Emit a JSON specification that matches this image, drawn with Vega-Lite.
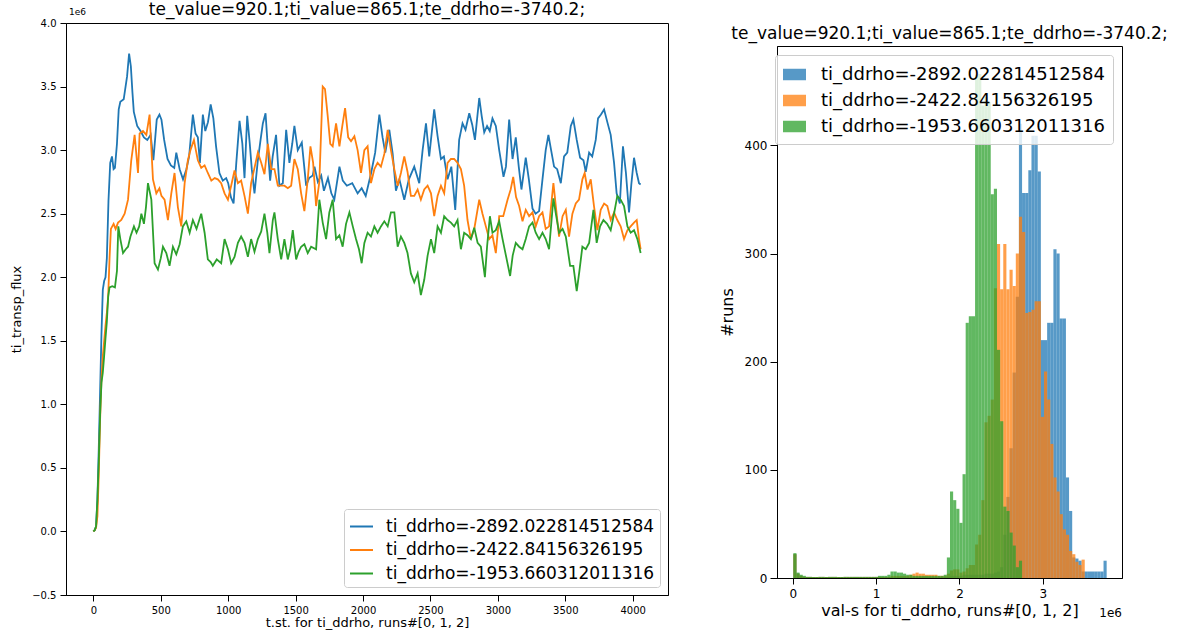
{
"$schema": "https://vega.github.io/schema/vega-lite/v6.json",
"padding": {"left": 10, "top": 0, "right": 0, "bottom": 0},
"background": "white",
"config": {
  "font": "DejaVu Sans",
  "view": {"stroke": "#000", "strokeWidth": 1},
  "axis": {"grid": false, "domainColor": "#000", "tickColor": "#000", "labelColor": "#000", "titleColor": "#000", "labelFont": "DejaVu Sans", "titleFont": "DejaVu Sans", "titleFontWeight": "normal", "labelFlush": false, "labelOverlap": false},
  "title": {"font": "DejaVu Sans", "fontWeight": "normal", "color": "#000", "anchor": "middle", "frame": "group"},
  "legend": {"labelFont": "DejaVu Sans", "labelColor": "#000", "labelLimit": 0, "fillColor": "rgba(255,255,255,0.8)", "strokeColor": "#cccccc", "cornerRadius": 3}
},
"spacing": 49,
"resolve": {"scale": {"color": "independent"}, "legend": {"color": "independent"}},
"datasets": {
"lines": [
{"s":0,"t":0,"v":0},{"s":0,"t":10,"v":0.01},{"s":0,"t":20,"v":0.04},{"s":0,"t":30,"v":0.25},{"s":0,"t":40,"v":0.65},{"s":0,"t":50,"v":1.10},{"s":0,"t":60,"v":1.55},{"s":0,"t":70,"v":1.90},{"s":0,"t":80,"v":1.97},{"s":0,"t":90,"v":2.00},{"s":0,"t":100,"v":2.15},{"s":0,"t":112,"v":2.60},{"s":0,"t":125,"v":2.90},{"s":0,"t":138,"v":2.95},{"s":0,"t":150,"v":2.85},{"s":0,"t":160,"v":2.86},{"s":0,"t":175,"v":3.05},{"s":0,"t":188,"v":3.32},{"s":0,"t":200,"v":3.38},{"s":0,"t":225,"v":3.40},{"s":0,"t":250,"v":3.58},{"s":0,"t":265,"v":3.76},{"s":0,"t":278,"v":3.66},{"s":0,"t":290,"v":3.45},{"s":0,"t":300,"v":3.30},{"s":0,"t":325,"v":3.19},{"s":0,"t":350,"v":3.15},{"s":0,"t":375,"v":3.10},{"s":0,"t":400,"v":3.08},{"s":0,"t":425,"v":3.12},{"s":0,"t":445,"v":2.92},{"s":0,"t":470,"v":3.24},{"s":0,"t":490,"v":3.28},{"s":0,"t":505,"v":3.24},{"s":0,"t":525,"v":3.08},{"s":0,"t":550,"v":2.93},{"s":0,"t":575,"v":2.88},{"s":0,"t":600,"v":2.86},{"s":0,"t":615,"v":2.98},{"s":0,"t":640,"v":2.85},{"s":0,"t":665,"v":2.77},{"s":0,"t":690,"v":2.85},{"s":0,"t":710,"v":2.95},{"s":0,"t":738,"v":3.28},{"s":0,"t":758,"v":3.13},{"s":0,"t":775,"v":3.10},{"s":0,"t":790,"v":2.90},{"s":0,"t":812,"v":3.28},{"s":0,"t":830,"v":3.15},{"s":0,"t":850,"v":3.22},{"s":0,"t":870,"v":3.36},{"s":0,"t":890,"v":3.25},{"s":0,"t":910,"v":3.03},{"s":0,"t":935,"v":2.82},{"s":0,"t":960,"v":2.76},{"s":0,"t":985,"v":2.78},{"s":0,"t":1000,"v":2.74},{"s":0,"t":1020,"v":2.63},{"s":0,"t":1040,"v":2.58},{"s":0,"t":1060,"v":2.90},{"s":0,"t":1084,"v":3.23},{"s":0,"t":1105,"v":3.05},{"s":0,"t":1121,"v":2.78},{"s":0,"t":1141,"v":3.27},{"s":0,"t":1160,"v":3.05},{"s":0,"t":1175,"v":2.85},{"s":0,"t":1195,"v":2.66},{"s":0,"t":1220,"v":2.92},{"s":0,"t":1240,"v":3.08},{"s":0,"t":1257,"v":3.21},{"s":0,"t":1277,"v":3.29},{"s":0,"t":1295,"v":3.00},{"s":0,"t":1311,"v":2.76},{"s":0,"t":1330,"v":2.95},{"s":0,"t":1355,"v":3.12},{"s":0,"t":1380,"v":2.72},{"s":0,"t":1405,"v":2.74},{"s":0,"t":1430,"v":3.16},{"s":0,"t":1454,"v":2.90},{"s":0,"t":1475,"v":3.05},{"s":0,"t":1491,"v":3.19},{"s":0,"t":1516,"v":3.00},{"s":0,"t":1546,"v":3.06},{"s":0,"t":1578,"v":2.72},{"s":0,"t":1600,"v":2.78},{"s":0,"t":1627,"v":2.80},{"s":0,"t":1640,"v":2.87},{"s":0,"t":1665,"v":2.75},{"s":0,"t":1690,"v":2.80},{"s":0,"t":1710,"v":2.68},{"s":0,"t":1740,"v":2.78},{"s":0,"t":1765,"v":2.66},{"s":0,"t":1787,"v":2.61},{"s":0,"t":1825,"v":2.87},{"s":0,"t":1850,"v":2.76},{"s":0,"t":1880,"v":2.72},{"s":0,"t":1920,"v":2.74},{"s":0,"t":1960,"v":2.66},{"s":0,"t":1990,"v":2.70},{"s":0,"t":2020,"v":2.64},{"s":0,"t":2060,"v":2.82},{"s":0,"t":2090,"v":2.98},{"s":0,"t":2121,"v":3.28},{"s":0,"t":2145,"v":3.10},{"s":0,"t":2165,"v":2.98},{"s":0,"t":2195,"v":3.16},{"s":0,"t":2220,"v":2.97},{"s":0,"t":2244,"v":2.68},{"s":0,"t":2270,"v":2.77},{"s":0,"t":2306,"v":2.61},{"s":0,"t":2340,"v":2.77},{"s":0,"t":2380,"v":2.87},{"s":0,"t":2417,"v":2.74},{"s":0,"t":2442,"v":3.00},{"s":0,"t":2467,"v":3.21},{"s":0,"t":2491,"v":2.95},{"s":0,"t":2528,"v":3.32},{"s":0,"t":2553,"v":3.11},{"s":0,"t":2578,"v":2.93},{"s":0,"t":2600,"v":2.95},{"s":0,"t":2627,"v":2.77},{"s":0,"t":2655,"v":2.87},{"s":0,"t":2684,"v":2.53},{"s":0,"t":2713,"v":3.08},{"s":0,"t":2738,"v":3.21},{"s":0,"t":2760,"v":3.16},{"s":0,"t":2788,"v":3.29},{"s":0,"t":2810,"v":3.20},{"s":0,"t":2830,"v":3.08},{"s":0,"t":2862,"v":3.41},{"s":0,"t":2880,"v":3.27},{"s":0,"t":2899,"v":3.14},{"s":0,"t":2920,"v":3.19},{"s":0,"t":2940,"v":3.15},{"s":0,"t":2960,"v":3.25},{"s":0,"t":2985,"v":3.19},{"s":0,"t":3010,"v":3.00},{"s":0,"t":3042,"v":2.79},{"s":0,"t":3060,"v":2.87},{"s":0,"t":3084,"v":3.24},{"s":0,"t":3109,"v":2.93},{"s":0,"t":3133,"v":3.10},{"s":0,"t":3155,"v":2.87},{"s":0,"t":3175,"v":2.69},{"s":0,"t":3207,"v":2.94},{"s":0,"t":3230,"v":2.77},{"s":0,"t":3257,"v":2.54},{"s":0,"t":3280,"v":2.50},{"s":0,"t":3306,"v":2.52},{"s":0,"t":3331,"v":2.77},{"s":0,"t":3355,"v":3.00},{"s":0,"t":3375,"v":3.12},{"s":0,"t":3395,"v":3.00},{"s":0,"t":3417,"v":2.87},{"s":0,"t":3440,"v":2.85},{"s":0,"t":3467,"v":2.74},{"s":0,"t":3491,"v":2.95},{"s":0,"t":3515,"v":2.98},{"s":0,"t":3541,"v":3.19},{"s":0,"t":3560,"v":3.24},{"s":0,"t":3585,"v":3.08},{"s":0,"t":3610,"v":2.94},{"s":0,"t":3635,"v":2.92},{"s":0,"t":3652,"v":2.83},{"s":0,"t":3677,"v":2.98},{"s":0,"t":3700,"v":2.95},{"s":0,"t":3726,"v":3.08},{"s":0,"t":3743,"v":3.25},{"s":0,"t":3765,"v":3.28},{"s":0,"t":3788,"v":3.32},{"s":0,"t":3812,"v":3.22},{"s":0,"t":3837,"v":3.12},{"s":0,"t":3862,"v":2.90},{"s":0,"t":3881,"v":2.66},{"s":0,"t":3905,"v":2.58},{"s":0,"t":3928,"v":3.03},{"s":0,"t":3950,"v":2.82},{"s":0,"t":3973,"v":2.51},{"s":0,"t":3990,"v":2.73},{"s":0,"t":4010,"v":2.94},{"s":0,"t":4030,"v":2.82},{"s":0,"t":4047,"v":2.74},{"s":0,"t":4059,"v":2.73},
{"s":1,"t":0,"v":0},{"s":1,"t":10,"v":0.01},{"s":1,"t":20,"v":0.03},{"s":1,"t":30,"v":0.12},{"s":1,"t":40,"v":0.45},{"s":1,"t":50,"v":0.88},{"s":1,"t":60,"v":1.20},{"s":1,"t":70,"v":1.38},{"s":1,"t":80,"v":1.50},{"s":1,"t":90,"v":1.62},{"s":1,"t":100,"v":1.72},{"s":1,"t":110,"v":1.85},{"s":1,"t":120,"v":2.15},{"s":1,"t":130,"v":2.38},{"s":1,"t":150,"v":2.42},{"s":1,"t":165,"v":2.38},{"s":1,"t":183,"v":2.43},{"s":1,"t":207,"v":2.45},{"s":1,"t":232,"v":2.50},{"s":1,"t":257,"v":2.61},{"s":1,"t":281,"v":2.92},{"s":1,"t":306,"v":3.12},{"s":1,"t":331,"v":2.82},{"s":1,"t":343,"v":3.13},{"s":1,"t":368,"v":3.15},{"s":1,"t":393,"v":3.12},{"s":1,"t":417,"v":3.28},{"s":1,"t":442,"v":2.77},{"s":1,"t":467,"v":2.66},{"s":1,"t":490,"v":2.70},{"s":1,"t":505,"v":2.64},{"s":1,"t":528,"v":2.61},{"s":1,"t":553,"v":2.45},{"s":1,"t":578,"v":2.66},{"s":1,"t":602,"v":2.82},{"s":1,"t":627,"v":2.55},{"s":1,"t":652,"v":2.40},{"s":1,"t":677,"v":2.74},{"s":1,"t":701,"v":2.92},{"s":1,"t":720,"v":3.00},{"s":1,"t":746,"v":3.08},{"s":1,"t":760,"v":3.00},{"s":1,"t":775,"v":2.92},{"s":1,"t":800,"v":2.86},{"s":1,"t":825,"v":2.88},{"s":1,"t":849,"v":2.82},{"s":1,"t":875,"v":2.76},{"s":1,"t":900,"v":2.78},{"s":1,"t":923,"v":2.77},{"s":1,"t":948,"v":2.74},{"s":1,"t":973,"v":2.66},{"s":1,"t":998,"v":2.61},{"s":1,"t":1022,"v":2.72},{"s":1,"t":1047,"v":2.84},{"s":1,"t":1072,"v":2.74},{"s":1,"t":1096,"v":2.76},{"s":1,"t":1121,"v":2.64},{"s":1,"t":1146,"v":2.50},{"s":1,"t":1170,"v":2.74},{"s":1,"t":1195,"v":2.86},{"s":1,"t":1220,"v":2.98},{"s":1,"t":1245,"v":2.90},{"s":1,"t":1269,"v":2.81},{"s":1,"t":1294,"v":3.05},{"s":1,"t":1319,"v":2.85},{"s":1,"t":1343,"v":2.85},{"s":1,"t":1368,"v":2.72},{"s":1,"t":1393,"v":2.72},{"s":1,"t":1417,"v":2.72},{"s":1,"t":1442,"v":2.70},{"s":1,"t":1467,"v":2.72},{"s":1,"t":1491,"v":2.93},{"s":1,"t":1516,"v":2.85},{"s":1,"t":1541,"v":2.66},{"s":1,"t":1565,"v":2.52},{"s":1,"t":1590,"v":2.77},{"s":1,"t":1610,"v":3.03},{"s":1,"t":1630,"v":2.90},{"s":1,"t":1652,"v":2.56},{"s":1,"t":1676,"v":2.75},{"s":1,"t":1701,"v":3.50},{"s":1,"t":1718,"v":3.48},{"s":1,"t":1738,"v":3.27},{"s":1,"t":1757,"v":3.05},{"s":1,"t":1775,"v":3.03},{"s":1,"t":1800,"v":3.21},{"s":1,"t":1825,"v":3.03},{"s":1,"t":1845,"v":3.18},{"s":1,"t":1867,"v":3.33},{"s":1,"t":1890,"v":3.10},{"s":1,"t":1911,"v":3.07},{"s":1,"t":1936,"v":3.11},{"s":1,"t":1960,"v":3.00},{"s":1,"t":1985,"v":2.82},{"s":1,"t":2010,"v":3.00},{"s":1,"t":2034,"v":3.03},{"s":1,"t":2059,"v":2.74},{"s":1,"t":2084,"v":2.85},{"s":1,"t":2108,"v":2.90},{"s":1,"t":2133,"v":2.87},{"s":1,"t":2158,"v":2.97},{"s":1,"t":2183,"v":3.16},{"s":1,"t":2207,"v":3.00},{"s":1,"t":2232,"v":2.85},{"s":1,"t":2257,"v":2.72},{"s":1,"t":2281,"v":2.82},{"s":1,"t":2306,"v":2.95},{"s":1,"t":2330,"v":2.83},{"s":1,"t":2355,"v":2.64},{"s":1,"t":2380,"v":2.64},{"s":1,"t":2405,"v":2.69},{"s":1,"t":2429,"v":2.61},{"s":1,"t":2454,"v":2.69},{"s":1,"t":2479,"v":2.72},{"s":1,"t":2504,"v":2.66},{"s":1,"t":2528,"v":2.48},{"s":1,"t":2553,"v":2.64},{"s":1,"t":2578,"v":2.72},{"s":1,"t":2602,"v":2.66},{"s":1,"t":2627,"v":2.90},{"s":1,"t":2652,"v":2.93},{"s":1,"t":2676,"v":2.93},{"s":1,"t":2701,"v":2.90},{"s":1,"t":2726,"v":2.85},{"s":1,"t":2750,"v":2.72},{"s":1,"t":2775,"v":2.45},{"s":1,"t":2800,"v":2.30},{"s":1,"t":2825,"v":2.38},{"s":1,"t":2862,"v":2.61},{"s":1,"t":2886,"v":2.50},{"s":1,"t":2911,"v":2.40},{"s":1,"t":2936,"v":2.30},{"s":1,"t":2960,"v":2.33},{"s":1,"t":2985,"v":2.19},{"s":1,"t":3010,"v":2.48},{"s":1,"t":3040,"v":2.48},{"s":1,"t":3072,"v":2.61},{"s":1,"t":3095,"v":2.69},{"s":1,"t":3114,"v":2.79},{"s":1,"t":3135,"v":2.63},{"s":1,"t":3158,"v":2.56},{"s":1,"t":3183,"v":2.44},{"s":1,"t":3207,"v":2.53},{"s":1,"t":3232,"v":2.48},{"s":1,"t":3257,"v":2.51},{"s":1,"t":3281,"v":2.40},{"s":1,"t":3306,"v":2.48},{"s":1,"t":3331,"v":2.51},{"s":1,"t":3355,"v":2.38},{"s":1,"t":3380,"v":2.40},{"s":1,"t":3412,"v":2.74},{"s":1,"t":3430,"v":2.56},{"s":1,"t":3454,"v":2.32},{"s":1,"t":3480,"v":2.48},{"s":1,"t":3504,"v":2.53},{"s":1,"t":3528,"v":2.32},{"s":1,"t":3553,"v":2.50},{"s":1,"t":3578,"v":2.58},{"s":1,"t":3602,"v":2.61},{"s":1,"t":3627,"v":2.77},{"s":1,"t":3644,"v":2.82},{"s":1,"t":3665,"v":2.69},{"s":1,"t":3689,"v":2.77},{"s":1,"t":3713,"v":2.56},{"s":1,"t":3738,"v":2.37},{"s":1,"t":3763,"v":2.53},{"s":1,"t":3788,"v":2.58},{"s":1,"t":3812,"v":2.56},{"s":1,"t":3837,"v":2.45},{"s":1,"t":3862,"v":2.51},{"s":1,"t":3886,"v":2.45},{"s":1,"t":3911,"v":2.40},{"s":1,"t":3936,"v":2.30},{"s":1,"t":3961,"v":2.37},{"s":1,"t":3985,"v":2.40},{"s":1,"t":4010,"v":2.43},{"s":1,"t":4030,"v":2.45},{"s":1,"t":4047,"v":2.30},{"s":1,"t":4059,"v":2.22},
{"s":2,"t":0,"v":0},{"s":2,"t":10,"v":0.01},{"s":2,"t":20,"v":0.04},{"s":2,"t":30,"v":0.25},{"s":2,"t":40,"v":0.55},{"s":2,"t":50,"v":0.92},{"s":2,"t":60,"v":1.17},{"s":2,"t":70,"v":1.25},{"s":2,"t":80,"v":1.38},{"s":2,"t":90,"v":1.52},{"s":2,"t":100,"v":1.65},{"s":2,"t":110,"v":1.85},{"s":2,"t":120,"v":1.92},{"s":2,"t":140,"v":1.93},{"s":2,"t":160,"v":1.92},{"s":2,"t":175,"v":2.05},{"s":2,"t":185,"v":2.40},{"s":2,"t":200,"v":2.30},{"s":2,"t":220,"v":2.19},{"s":2,"t":240,"v":2.22},{"s":2,"t":257,"v":2.24},{"s":2,"t":275,"v":2.32},{"s":2,"t":301,"v":2.40},{"s":2,"t":320,"v":2.35},{"s":2,"t":340,"v":2.40},{"s":2,"t":356,"v":2.50},{"s":2,"t":375,"v":2.42},{"s":2,"t":390,"v":2.55},{"s":2,"t":405,"v":2.74},{"s":2,"t":430,"v":2.61},{"s":2,"t":454,"v":2.11},{"s":2,"t":479,"v":2.06},{"s":2,"t":500,"v":2.15},{"s":2,"t":516,"v":2.24},{"s":2,"t":541,"v":2.19},{"s":2,"t":565,"v":2.09},{"s":2,"t":590,"v":2.24},{"s":2,"t":615,"v":2.18},{"s":2,"t":640,"v":2.26},{"s":2,"t":664,"v":2.40},{"s":2,"t":689,"v":2.44},{"s":2,"t":714,"v":2.35},{"s":2,"t":738,"v":2.45},{"s":2,"t":765,"v":2.38},{"s":2,"t":800,"v":2.50},{"s":2,"t":825,"v":2.35},{"s":2,"t":849,"v":2.14},{"s":2,"t":870,"v":2.12},{"s":2,"t":886,"v":2.09},{"s":2,"t":915,"v":2.14},{"s":2,"t":948,"v":2.11},{"s":2,"t":973,"v":2.30},{"s":2,"t":998,"v":2.22},{"s":2,"t":1022,"v":2.11},{"s":2,"t":1047,"v":2.16},{"s":2,"t":1072,"v":2.27},{"s":2,"t":1096,"v":2.32},{"s":2,"t":1121,"v":2.27},{"s":2,"t":1146,"v":2.16},{"s":2,"t":1170,"v":2.30},{"s":2,"t":1195,"v":2.20},{"s":2,"t":1220,"v":2.30},{"s":2,"t":1245,"v":2.36},{"s":2,"t":1269,"v":2.50},{"s":2,"t":1290,"v":2.35},{"s":2,"t":1306,"v":2.19},{"s":2,"t":1331,"v":2.45},{"s":2,"t":1343,"v":2.51},{"s":2,"t":1368,"v":2.30},{"s":2,"t":1393,"v":2.14},{"s":2,"t":1417,"v":2.30},{"s":2,"t":1442,"v":2.14},{"s":2,"t":1460,"v":2.22},{"s":2,"t":1479,"v":2.37},{"s":2,"t":1504,"v":2.14},{"s":2,"t":1522,"v":2.20},{"s":2,"t":1541,"v":2.24},{"s":2,"t":1565,"v":2.26},{"s":2,"t":1590,"v":2.19},{"s":2,"t":1615,"v":2.24},{"s":2,"t":1652,"v":2.22},{"s":2,"t":1676,"v":2.61},{"s":2,"t":1701,"v":2.43},{"s":2,"t":1726,"v":2.30},{"s":2,"t":1750,"v":2.51},{"s":2,"t":1775,"v":2.61},{"s":2,"t":1800,"v":2.30},{"s":2,"t":1825,"v":2.33},{"s":2,"t":1849,"v":2.24},{"s":2,"t":1874,"v":2.42},{"s":2,"t":1899,"v":2.51},{"s":2,"t":1924,"v":2.40},{"s":2,"t":1948,"v":2.30},{"s":2,"t":1970,"v":2.22},{"s":2,"t":1990,"v":2.11},{"s":2,"t":2010,"v":2.27},{"s":2,"t":2034,"v":2.35},{"s":2,"t":2059,"v":2.32},{"s":2,"t":2084,"v":2.40},{"s":2,"t":2108,"v":2.35},{"s":2,"t":2133,"v":2.40},{"s":2,"t":2158,"v":2.44},{"s":2,"t":2183,"v":2.40},{"s":2,"t":2207,"v":2.51},{"s":2,"t":2232,"v":2.51},{"s":2,"t":2257,"v":2.24},{"s":2,"t":2281,"v":2.32},{"s":2,"t":2306,"v":2.27},{"s":2,"t":2330,"v":2.19},{"s":2,"t":2355,"v":2.03},{"s":2,"t":2380,"v":1.96},{"s":2,"t":2405,"v":2.03},{"s":2,"t":2429,"v":1.86},{"s":2,"t":2454,"v":1.98},{"s":2,"t":2479,"v":2.17},{"s":2,"t":2504,"v":2.30},{"s":2,"t":2528,"v":2.19},{"s":2,"t":2553,"v":2.40},{"s":2,"t":2578,"v":2.35},{"s":2,"t":2602,"v":2.48},{"s":2,"t":2627,"v":2.45},{"s":2,"t":2652,"v":2.43},{"s":2,"t":2676,"v":2.40},{"s":2,"t":2701,"v":2.45},{"s":2,"t":2726,"v":2.22},{"s":2,"t":2750,"v":2.35},{"s":2,"t":2775,"v":2.33},{"s":2,"t":2800,"v":2.30},{"s":2,"t":2825,"v":2.39},{"s":2,"t":2850,"v":2.27},{"s":2,"t":2874,"v":2.24},{"s":2,"t":2904,"v":2.00},{"s":2,"t":2920,"v":2.24},{"s":2,"t":2941,"v":2.48},{"s":2,"t":2960,"v":2.35},{"s":2,"t":2985,"v":2.37},{"s":2,"t":3010,"v":2.44},{"s":2,"t":3035,"v":2.30},{"s":2,"t":3060,"v":2.17},{"s":2,"t":3091,"v":2.01},{"s":2,"t":3110,"v":2.17},{"s":2,"t":3133,"v":2.27},{"s":2,"t":3158,"v":2.24},{"s":2,"t":3183,"v":2.22},{"s":2,"t":3207,"v":2.30},{"s":2,"t":3232,"v":2.40},{"s":2,"t":3257,"v":2.43},{"s":2,"t":3281,"v":2.35},{"s":2,"t":3306,"v":2.30},{"s":2,"t":3331,"v":2.35},{"s":2,"t":3355,"v":2.30},{"s":2,"t":3380,"v":2.22},{"s":2,"t":3412,"v":2.62},{"s":2,"t":3430,"v":2.50},{"s":2,"t":3454,"v":2.35},{"s":2,"t":3480,"v":2.38},{"s":2,"t":3504,"v":2.32},{"s":2,"t":3536,"v":2.09},{"s":2,"t":3560,"v":2.09},{"s":2,"t":3585,"v":1.89},{"s":2,"t":3605,"v":2.05},{"s":2,"t":3627,"v":2.24},{"s":2,"t":3652,"v":2.22},{"s":2,"t":3677,"v":2.27},{"s":2,"t":3709,"v":2.53},{"s":2,"t":3733,"v":2.27},{"s":2,"t":3758,"v":2.40},{"s":2,"t":3783,"v":2.45},{"s":2,"t":3810,"v":2.42},{"s":2,"t":3837,"v":2.37},{"s":2,"t":3862,"v":2.50},{"s":2,"t":3886,"v":2.64},{"s":2,"t":3911,"v":2.61},{"s":2,"t":3936,"v":2.56},{"s":2,"t":3961,"v":2.40},{"s":2,"t":3985,"v":2.35},{"s":2,"t":4010,"v":2.37},{"s":2,"t":4035,"v":2.30},{"s":2,"t":4059,"v":2.19}
],
"hist": [
{"s":0,"x0":0,"x1":0.0376,"c":22},{"s":0,"x0":0.0376,"x1":0.0752,"c":4},{"s":0,"x0":0.0752,"x1":0.1128,"c":2},{"s":0,"x0":0.1128,"x1":0.1504,"c":1},{"s":0,"x0":0.1504,"x1":0.188,"c":1},{"s":0,"x0":0.188,"x1":0.2256,"c":1},{"s":0,"x0":0.2256,"x1":0.2632,"c":1},{"s":0,"x0":0.2632,"x1":0.3008,"c":1},{"s":0,"x0":0.3008,"x1":0.3384,"c":1},{"s":0,"x0":0.3384,"x1":0.376,"c":1},{"s":0,"x0":0.376,"x1":0.4136,"c":1},{"s":0,"x0":0.4136,"x1":0.4512,"c":1},{"s":0,"x0":0.4512,"x1":0.4888,"c":1},{"s":0,"x0":0.4888,"x1":0.5264,"c":1},{"s":0,"x0":0.5264,"x1":0.564,"c":1},{"s":0,"x0":0.564,"x1":0.6016,"c":1},{"s":0,"x0":0.6016,"x1":0.6392,"c":1},{"s":0,"x0":0.6392,"x1":0.6768,"c":1},{"s":0,"x0":0.6768,"x1":0.7144,"c":1},{"s":0,"x0":0.7144,"x1":0.752,"c":1},{"s":0,"x0":0.752,"x1":0.7896,"c":1},{"s":0,"x0":0.7896,"x1":0.8272,"c":1},{"s":0,"x0":0.8272,"x1":0.8648,"c":1},{"s":0,"x0":0.8648,"x1":0.9024,"c":1},{"s":0,"x0":0.9024,"x1":0.94,"c":1},{"s":0,"x0":0.94,"x1":0.9776,"c":1},{"s":0,"x0":0.9776,"x1":1.0152,"c":1},{"s":0,"x0":1.0152,"x1":1.0528,"c":1},{"s":0,"x0":1.0528,"x1":1.0904,"c":1},{"s":0,"x0":1.0904,"x1":1.128,"c":1},{"s":0,"x0":1.128,"x1":1.1656,"c":1},{"s":0,"x0":1.1656,"x1":1.2032,"c":1},{"s":0,"x0":1.2032,"x1":1.2408,"c":1},{"s":0,"x0":1.2408,"x1":1.2784,"c":1},{"s":0,"x0":1.2784,"x1":1.316,"c":1},{"s":0,"x0":1.316,"x1":1.3536,"c":1},{"s":0,"x0":1.3536,"x1":1.3912,"c":1},{"s":0,"x0":1.3912,"x1":1.4288,"c":1},{"s":0,"x0":1.4288,"x1":1.4664,"c":1},{"s":0,"x0":1.4664,"x1":1.504,"c":1},{"s":0,"x0":1.504,"x1":1.5416,"c":1},{"s":0,"x0":1.5416,"x1":1.5792,"c":1},{"s":0,"x0":1.5792,"x1":1.6168,"c":1},{"s":0,"x0":1.6168,"x1":1.6544,"c":1},{"s":0,"x0":1.6544,"x1":1.692,"c":1},{"s":0,"x0":1.692,"x1":1.7296,"c":1},{"s":0,"x0":1.7296,"x1":1.7672,"c":1},{"s":0,"x0":1.7672,"x1":1.8048,"c":1},{"s":0,"x0":1.8048,"x1":1.8424,"c":1},{"s":0,"x0":1.8424,"x1":1.88,"c":1},{"s":0,"x0":1.88,"x1":1.9176,"c":2},{"s":0,"x0":1.9176,"x1":1.9552,"c":2},{"s":0,"x0":1.9552,"x1":1.9928,"c":2},{"s":0,"x0":1.9928,"x1":2.0304,"c":2},{"s":0,"x0":2.0304,"x1":2.068,"c":3},{"s":0,"x0":2.068,"x1":2.1056,"c":3},{"s":0,"x0":2.1056,"x1":2.1432,"c":3},{"s":0,"x0":2.1432,"x1":2.1808,"c":3},{"s":0,"x0":2.1808,"x1":2.2184,"c":3},{"s":0,"x0":2.2184,"x1":2.256,"c":3},{"s":0,"x0":2.256,"x1":2.2936,"c":3},{"s":0,"x0":2.2936,"x1":2.3312,"c":4},{"s":0,"x0":2.3312,"x1":2.3688,"c":4},{"s":0,"x0":2.3688,"x1":2.4064,"c":4},{"s":0,"x0":2.4064,"x1":2.444,"c":5},{"s":0,"x0":2.444,"x1":2.4816,"c":6},{"s":0,"x0":2.4816,"x1":2.5192,"c":10},{"s":0,"x0":2.5192,"x1":2.5568,"c":40},{"s":0,"x0":2.5568,"x1":2.5944,"c":75},{"s":0,"x0":2.5944,"x1":2.632,"c":120},{"s":0,"x0":2.632,"x1":2.6696,"c":190},{"s":0,"x0":2.6696,"x1":2.7072,"c":260},{"s":0,"x0":2.7072,"x1":2.7448,"c":420},{"s":0,"x0":2.7448,"x1":2.7824,"c":356},{"s":0,"x0":2.7824,"x1":2.82,"c":356},{"s":0,"x0":2.82,"x1":2.8576,"c":377},{"s":0,"x0":2.8576,"x1":2.8952,"c":409},{"s":0,"x0":2.8952,"x1":2.9328,"c":409},{"s":0,"x0":2.9328,"x1":2.9704,"c":376},{"s":0,"x0":2.9704,"x1":3.008,"c":220},{"s":0,"x0":3.008,"x1":3.0456,"c":220},{"s":0,"x0":3.0456,"x1":3.0832,"c":236},{"s":0,"x0":3.0832,"x1":3.1208,"c":236},{"s":0,"x0":3.1208,"x1":3.1584,"c":304},{"s":0,"x0":3.1584,"x1":3.196,"c":300},{"s":0,"x0":3.196,"x1":3.2336,"c":240},{"s":0,"x0":3.2336,"x1":3.2712,"c":240},{"s":0,"x0":3.2712,"x1":3.3088,"c":93},{"s":0,"x0":3.3088,"x1":3.3464,"c":62},{"s":0,"x0":3.3464,"x1":3.384,"c":19},{"s":0,"x0":3.384,"x1":3.4216,"c":18},{"s":0,"x0":3.4216,"x1":3.4592,"c":16},{"s":0,"x0":3.4592,"x1":3.4968,"c":6},{"s":0,"x0":3.4968,"x1":3.5344,"c":6},{"s":0,"x0":3.5344,"x1":3.572,"c":6},{"s":0,"x0":3.572,"x1":3.6096,"c":6},{"s":0,"x0":3.6096,"x1":3.6472,"c":6},{"s":0,"x0":3.6472,"x1":3.6848,"c":6},{"s":0,"x0":3.6848,"x1":3.7224,"c":6},{"s":0,"x0":3.7224,"x1":3.76,"c":16},
{"s":1,"x0":0,"x1":0.0376,"c":22},{"s":1,"x0":0.0376,"x1":0.0752,"c":4},{"s":1,"x0":0.0752,"x1":0.1128,"c":2},{"s":1,"x0":0.1128,"x1":0.1504,"c":1},{"s":1,"x0":0.1504,"x1":0.188,"c":1},{"s":1,"x0":0.188,"x1":0.2256,"c":1},{"s":1,"x0":0.2256,"x1":0.2632,"c":1},{"s":1,"x0":0.2632,"x1":0.3008,"c":1},{"s":1,"x0":0.3008,"x1":0.3384,"c":1},{"s":1,"x0":0.3384,"x1":0.376,"c":1},{"s":1,"x0":0.376,"x1":0.4136,"c":1},{"s":1,"x0":0.4136,"x1":0.4512,"c":1},{"s":1,"x0":0.4512,"x1":0.4888,"c":1},{"s":1,"x0":0.4888,"x1":0.5264,"c":1},{"s":1,"x0":0.5264,"x1":0.564,"c":1},{"s":1,"x0":0.564,"x1":0.6016,"c":1},{"s":1,"x0":0.6016,"x1":0.6392,"c":1},{"s":1,"x0":0.6392,"x1":0.6768,"c":1},{"s":1,"x0":0.6768,"x1":0.7144,"c":1},{"s":1,"x0":0.7144,"x1":0.752,"c":1},{"s":1,"x0":0.752,"x1":0.7896,"c":1},{"s":1,"x0":0.7896,"x1":0.8272,"c":1},{"s":1,"x0":0.8272,"x1":0.8648,"c":1},{"s":1,"x0":0.8648,"x1":0.9024,"c":1},{"s":1,"x0":0.9024,"x1":0.94,"c":1},{"s":1,"x0":0.94,"x1":0.9776,"c":1},{"s":1,"x0":0.9776,"x1":1.0152,"c":1},{"s":1,"x0":1.0152,"x1":1.0528,"c":1},{"s":1,"x0":1.0528,"x1":1.0904,"c":1},{"s":1,"x0":1.0904,"x1":1.128,"c":1},{"s":1,"x0":1.128,"x1":1.1656,"c":1},{"s":1,"x0":1.1656,"x1":1.2032,"c":2},{"s":1,"x0":1.2032,"x1":1.2408,"c":2},{"s":1,"x0":1.2408,"x1":1.2784,"c":2},{"s":1,"x0":1.2784,"x1":1.316,"c":2},{"s":1,"x0":1.316,"x1":1.3536,"c":2},{"s":1,"x0":1.3536,"x1":1.3912,"c":2},{"s":1,"x0":1.3912,"x1":1.4288,"c":3},{"s":1,"x0":1.4288,"x1":1.4664,"c":4},{"s":1,"x0":1.4664,"x1":1.504,"c":5},{"s":1,"x0":1.504,"x1":1.5416,"c":4},{"s":1,"x0":1.5416,"x1":1.5792,"c":4},{"s":1,"x0":1.5792,"x1":1.6168,"c":3},{"s":1,"x0":1.6168,"x1":1.6544,"c":3},{"s":1,"x0":1.6544,"x1":1.692,"c":3},{"s":1,"x0":1.692,"x1":1.7296,"c":3},{"s":1,"x0":1.7296,"x1":1.7672,"c":2},{"s":1,"x0":1.7672,"x1":1.8048,"c":2},{"s":1,"x0":1.8048,"x1":1.8424,"c":2},{"s":1,"x0":1.8424,"x1":1.88,"c":4},{"s":1,"x0":1.88,"x1":1.9176,"c":7},{"s":1,"x0":1.9176,"x1":1.9552,"c":8},{"s":1,"x0":1.9552,"x1":1.9928,"c":8},{"s":1,"x0":1.9928,"x1":2.0304,"c":5},{"s":1,"x0":2.0304,"x1":2.068,"c":6},{"s":1,"x0":2.068,"x1":2.1056,"c":9},{"s":1,"x0":2.1056,"x1":2.1432,"c":12},{"s":1,"x0":2.1432,"x1":2.1808,"c":12},{"s":1,"x0":2.1808,"x1":2.2184,"c":31},{"s":1,"x0":2.2184,"x1":2.256,"c":40},{"s":1,"x0":2.256,"x1":2.2936,"c":72},{"s":1,"x0":2.2936,"x1":2.3312,"c":144},{"s":1,"x0":2.3312,"x1":2.3688,"c":150},{"s":1,"x0":2.3688,"x1":2.4064,"c":165},{"s":1,"x0":2.4064,"x1":2.444,"c":268},{"s":1,"x0":2.444,"x1":2.4816,"c":309},{"s":1,"x0":2.4816,"x1":2.5192,"c":267},{"s":1,"x0":2.5192,"x1":2.5568,"c":309},{"s":1,"x0":2.5568,"x1":2.5944,"c":267},{"s":1,"x0":2.5944,"x1":2.632,"c":285},{"s":1,"x0":2.632,"x1":2.6696,"c":270},{"s":1,"x0":2.6696,"x1":2.7072,"c":300},{"s":1,"x0":2.7072,"x1":2.7448,"c":334},{"s":1,"x0":2.7448,"x1":2.7824,"c":320},{"s":1,"x0":2.7824,"x1":2.82,"c":245},{"s":1,"x0":2.82,"x1":2.8576,"c":246},{"s":1,"x0":2.8576,"x1":2.8952,"c":248},{"s":1,"x0":2.8952,"x1":2.9328,"c":256},{"s":1,"x0":2.9328,"x1":2.9704,"c":256},{"s":1,"x0":2.9704,"x1":3.008,"c":149},{"s":1,"x0":3.008,"x1":3.0456,"c":191},{"s":1,"x0":3.0456,"x1":3.0832,"c":165},{"s":1,"x0":3.0832,"x1":3.1208,"c":124},{"s":1,"x0":3.1208,"x1":3.1584,"c":93},{"s":1,"x0":3.1584,"x1":3.196,"c":80},{"s":1,"x0":3.196,"x1":3.2336,"c":59},{"s":1,"x0":3.2336,"x1":3.2712,"c":45},{"s":1,"x0":3.2712,"x1":3.3088,"c":40},{"s":1,"x0":3.3088,"x1":3.3464,"c":25},{"s":1,"x0":3.3464,"x1":3.384,"c":22},{"s":1,"x0":3.384,"x1":3.4216,"c":15},{"s":1,"x0":3.4216,"x1":3.4592,"c":12},{"s":1,"x0":3.4592,"x1":3.4968,"c":17},
{"s":2,"x0":0,"x1":0.0376,"c":23},{"s":2,"x0":0.0376,"x1":0.0752,"c":5},{"s":2,"x0":0.0752,"x1":0.1128,"c":3},{"s":2,"x0":0.1128,"x1":0.1504,"c":2},{"s":2,"x0":0.1504,"x1":0.188,"c":1},{"s":2,"x0":0.188,"x1":0.2256,"c":1},{"s":2,"x0":0.2256,"x1":0.2632,"c":1},{"s":2,"x0":0.2632,"x1":0.3008,"c":1},{"s":2,"x0":0.3008,"x1":0.3384,"c":1},{"s":2,"x0":0.3384,"x1":0.376,"c":1},{"s":2,"x0":0.376,"x1":0.4136,"c":1},{"s":2,"x0":0.4136,"x1":0.4512,"c":1},{"s":2,"x0":0.4512,"x1":0.4888,"c":1},{"s":2,"x0":0.4888,"x1":0.5264,"c":1},{"s":2,"x0":0.5264,"x1":0.564,"c":1},{"s":2,"x0":0.564,"x1":0.6016,"c":1},{"s":2,"x0":0.6016,"x1":0.6392,"c":1},{"s":2,"x0":0.6392,"x1":0.6768,"c":1},{"s":2,"x0":0.6768,"x1":0.7144,"c":1},{"s":2,"x0":0.7144,"x1":0.752,"c":1},{"s":2,"x0":0.752,"x1":0.7896,"c":1},{"s":2,"x0":0.7896,"x1":0.8272,"c":1},{"s":2,"x0":0.8272,"x1":0.8648,"c":1},{"s":2,"x0":0.8648,"x1":0.9024,"c":1},{"s":2,"x0":0.9024,"x1":0.94,"c":1},{"s":2,"x0":0.94,"x1":0.9776,"c":1},{"s":2,"x0":0.9776,"x1":1.0152,"c":1},{"s":2,"x0":1.0152,"x1":1.0528,"c":2},{"s":2,"x0":1.0528,"x1":1.0904,"c":2},{"s":2,"x0":1.0904,"x1":1.128,"c":2},{"s":2,"x0":1.128,"x1":1.1656,"c":3},{"s":2,"x0":1.1656,"x1":1.2032,"c":6},{"s":2,"x0":1.2032,"x1":1.2408,"c":6},{"s":2,"x0":1.2408,"x1":1.2784,"c":5},{"s":2,"x0":1.2784,"x1":1.316,"c":5},{"s":2,"x0":1.316,"x1":1.3536,"c":4},{"s":2,"x0":1.3536,"x1":1.3912,"c":3},{"s":2,"x0":1.3912,"x1":1.4288,"c":3},{"s":2,"x0":1.4288,"x1":1.4664,"c":2},{"s":2,"x0":1.4664,"x1":1.504,"c":2},{"s":2,"x0":1.504,"x1":1.5416,"c":2},{"s":2,"x0":1.5416,"x1":1.5792,"c":2},{"s":2,"x0":1.5792,"x1":1.6168,"c":2},{"s":2,"x0":1.6168,"x1":1.6544,"c":2},{"s":2,"x0":1.6544,"x1":1.692,"c":2},{"s":2,"x0":1.692,"x1":1.7296,"c":2},{"s":2,"x0":1.7296,"x1":1.7672,"c":2},{"s":2,"x0":1.7672,"x1":1.8048,"c":2},{"s":2,"x0":1.8048,"x1":1.8424,"c":3},{"s":2,"x0":1.8424,"x1":1.88,"c":19},{"s":2,"x0":1.88,"x1":1.9176,"c":80},{"s":2,"x0":1.9176,"x1":1.9552,"c":72},{"s":2,"x0":1.9552,"x1":1.9928,"c":64},{"s":2,"x0":1.9928,"x1":2.0304,"c":51},{"s":2,"x0":2.0304,"x1":2.068,"c":96},{"s":2,"x0":2.068,"x1":2.1056,"c":236},{"s":2,"x0":2.1056,"x1":2.1432,"c":242},{"s":2,"x0":2.1432,"x1":2.1808,"c":242},{"s":2,"x0":2.1808,"x1":2.2184,"c":465},{"s":2,"x0":2.2184,"x1":2.256,"c":466},{"s":2,"x0":2.256,"x1":2.2936,"c":437},{"s":2,"x0":2.2936,"x1":2.3312,"c":445},{"s":2,"x0":2.3312,"x1":2.3688,"c":440},{"s":2,"x0":2.3688,"x1":2.4064,"c":355},{"s":2,"x0":2.4064,"x1":2.444,"c":360},{"s":2,"x0":2.444,"x1":2.4816,"c":211},{"s":2,"x0":2.4816,"x1":2.5192,"c":145},{"s":2,"x0":2.5192,"x1":2.5568,"c":66},{"s":2,"x0":2.5568,"x1":2.5944,"c":62},{"s":2,"x0":2.5944,"x1":2.632,"c":42},{"s":2,"x0":2.632,"x1":2.6696,"c":30},{"s":2,"x0":2.6696,"x1":2.7072,"c":10},{"s":2,"x0":2.7072,"x1":2.7448,"c":16}
]
},
"hconcat": [
{
  "width": 602, "height": 572,
  "title": {"text": "te_value=920.1;ti_value=865.1;te_ddrho=-3740.2;", "fontSize": 17, "offset": -11},
  "layer": [
    {
      "data": {"name": "lines"},
      "mark": {"type": "line", "strokeWidth": 1.8},
      "encoding": {
        "x": {"field": "t", "type": "quantitative", "scale": {"domain": [-203, 4262], "nice": false, "zero": false},
              "axis": {"values": [0,500,1000,1500,2000,2500,3000,3500,4000], "format": "d", "title": "t.st. for ti_ddrho, runs#[0, 1, 2]", "titleFontSize": 13, "labelFontSize": 10, "tickSize": 6, "labelPadding": 4, "titlePadding": 1}},
        "y": {"field": "v", "type": "quantitative", "scale": {"domain": [-0.5, 4.0], "nice": false, "zero": false},
              "axis": {"values": [-0.5,0,0.5,1,1.5,2,2.5,3,3.5,4], "format": ".1f", "title": "ti_transp_flux", "titleFontSize": 13, "labelFontSize": 10, "tickSize": 6, "labelPadding": 4, "titlePadding": 8}},
        "color": {"field": "s", "type": "nominal", "scale": {"domain": [0,1,2], "range": ["#1f77b4", "#ff7f0e", "#2ca02c"]},
                  "legend": {"orient": "bottom-right", "offset": 8, "title": null, "labelExpr": "['ti_ddrho=-2892.022814512584','ti_ddrho=-2422.84156326195','ti_ddrho=-1953.660312011316'][datum.value]", "symbolType": "stroke", "symbolSize": 529, "symbolStrokeWidth": 2, "labelFontSize": 17, "labelOffset": 12, "padding": 5, "rowPadding": 2.5}}
      }
    },
    {
      "data": {"values": [{}]},
      "mark": {"type": "text", "text": "1e6", "align": "left", "baseline": "bottom", "dx": 3, "dy": -6, "fontSize": 9, "color": "#000"},
      "encoding": {"x": {"datum": -203}, "y": {"datum": 4.0}}
    }
  ]
},
{
  "spacing": 0,
  "resolve": {"scale": {"color": "independent"}, "legend": {"color": "independent"}},
  "vconcat": [
    {
      "width": 345, "height": 22,
      "view": {"stroke": null},
      "data": {"values": [{}]},
      "mark": {"type": "text", "text": "te_value=920.1;ti_value=865.1;te_ddrho=-3740.2;", "fontSize": 17, "align": "center", "baseline": "middle", "color": "#000"},
      "encoding": {}
    },
    {
      "width": 345, "height": 532,
      "layer": [
        {
          "data": {"name": "hist"},
          "mark": {"type": "bar", "opacity": 0.75, "binSpacing": 0},
          "encoding": {
            "x": {"field": "x0", "type": "quantitative", "bin": "binned", "scale": {"domain": [-0.19, 3.95], "nice": false, "zero": false},
                  "axis": {"values": [0,1,2,3], "format": "d", "title": "val-s for ti_ddrho, runs#[0, 1, 2]", "titleFontSize": 16, "labelFontSize": 12, "tickSize": 6, "labelPadding": 4, "titlePadding": 3}},
            "x2": {"field": "x1"},
            "y": {"field": "c", "type": "quantitative", "stack": null, "scale": {"domain": [0, 492], "nice": false},
                  "axis": {"values": [0,100,200,300,400], "title": "#runs", "titleFontSize": 16, "labelFontSize": 12, "tickSize": 7, "labelPadding": 3, "titlePadding": 9}},
            "color": {"field": "s", "type": "nominal", "scale": {"domain": [0,1,2], "range": ["#1f77b4", "#ff7f0e", "#2ca02c"]},
                      "legend": {"orient": "top-right", "offset": 9, "title": null, "labelExpr": "['ti_ddrho=-2892.022814512584','ti_ddrho=-2422.84156326195','ti_ddrho=-1953.660312011316'][datum.value]", "symbolType": "M-1,-0.5H1V0.5H-1Z", "symbolSize": 529, "symbolOpacity": 0.75, "symbolStrokeWidth": 0, "labelFontSize": 18, "labelOffset": 15, "padding": 8, "rowPadding": 5}}
          }
        },
        {
          "data": {"values": [{}]},
          "mark": {"type": "text", "text": "1e6", "align": "right", "baseline": "middle", "dy": 35, "fontSize": 12, "color": "#000"},
          "encoding": {"x": {"datum": 3.95}, "y": {"datum": 0}}
        }
      ]
    }
  ]
}
]
}
